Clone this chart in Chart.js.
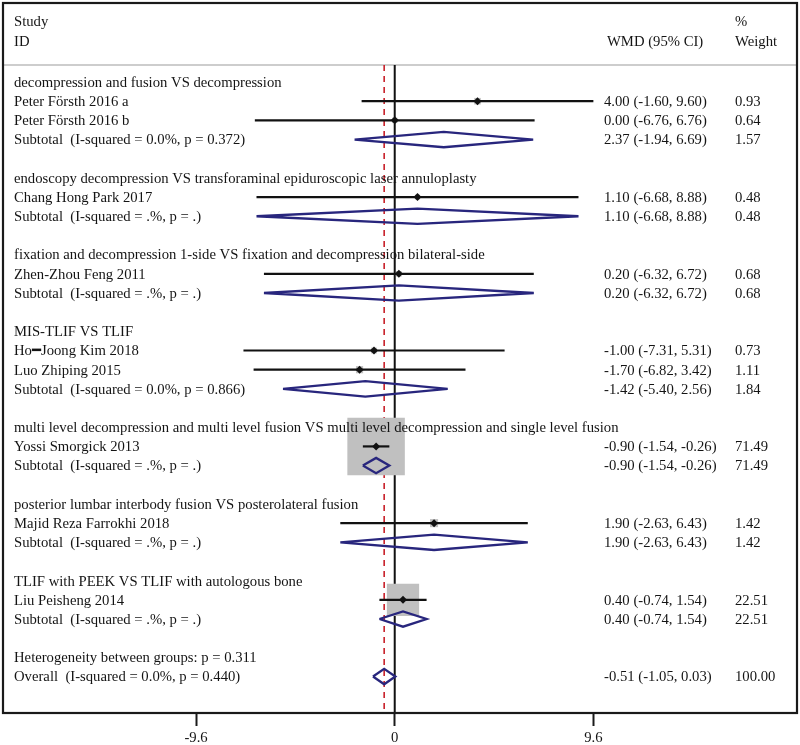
<!DOCTYPE html>
<html>
<head>
<meta charset="utf-8">
<script src="https://cdn.jsdelivr.net/npm/chart.js@4.4.0/dist/chart.umd.min.js"></script>
<style>
  html, body { margin: 0; padding: 0; background: #fff; }
  #wrap { width: 800px; height: 745px; }
</style>
</head>
<body>
<div id="wrap"><canvas id="forest"></canvas></div>
<script>
// Forest plot - WMD by comparison subgroup

// Data
const groupTitles = [
    'decompression and fusion VS decompression',
    'endoscopy decompression VS transforaminal epiduroscopic laser annuloplasty',
    'fixation and decompression 1-side VS fixation and decompression bilateral-side',
    'MIS-TLIF VS TLIF',
    'multi level decompression and multi level fusion VS multi level decompression and single level fusion',
    'posterior lumbar interbody fusion VS posterolateral fusion',
    'TLIF with PEEK VS TLIF with autologous bone'
];
const subtotalLabels = [
    'Subtotal  (I-squared = 0.0%, p = 0.372)',
    'Subtotal  (I-squared = .%, p = .)',
    'Subtotal  (I-squared = .%, p = .)',
    'Subtotal  (I-squared = 0.0%, p = 0.866)',
    'Subtotal  (I-squared = .%, p = .)',
    'Subtotal  (I-squared = .%, p = .)',
    'Subtotal  (I-squared = .%, p = .)'
];
const subtotalEst = [2.37, 1.10, 0.20, -1.42, -0.90, 1.90, 0.40];
const subtotalLo = [-1.94, -6.68, -6.32, -5.40, -1.54, -2.63, -0.74];
const subtotalHi = [6.69, 8.88, 6.72, 2.56, -0.26, 6.43, 1.54];
const subtotalWeight = [1.57, 0.48, 0.68, 1.84, 71.49, 1.42, 22.51];

const studyNames = [
    'Peter Försth 2016 a',
    'Peter Försth 2016 b',
    'Chang Hong Park 2017',
    'Zhen-Zhou Feng 2011',
    'Ho\u2501Joong Kim 2018',
    'Luo Zhiping 2015',
    'Yossi Smorgick 2013',
    'Majid Reza Farrokhi 2018',
    'Liu Peisheng 2014'
];
const studyGroup = [0, 0, 1, 2, 3, 3, 4, 5, 6];
const studyEst = [4.00, 0.00, 1.10, 0.20, -1.00, -1.70, -0.90, 1.90, 0.40];
const studyLo = [-1.60, -6.76, -6.68, -6.32, -7.31, -6.82, -1.54, -2.63, -0.74];
const studyHi = [9.60, 6.76, 8.88, 6.72, 5.31, 3.42, -0.26, 6.43, 1.54];
const studyWeight = [0.93, 0.64, 0.48, 0.68, 0.73, 1.11, 71.49, 1.42, 22.51];

const heterogeneityLabel = 'Heterogeneity between groups: p = 0.311';
const overallLabel = 'Overall  (I-squared = 0.0%, p = 0.440)';
const overallEst = -0.51;
const overallLo = -1.05;
const overallHi = 0.03;
const overallWeight = 100.00;

const xTicks = [-9.6, 0, 9.6];

// Layout / style
const FONT = '14.7px "Liberation Serif", "Times New Roman", serif';
const TEXT_COLOR = '#141414';
const DIAMOND_COLOR = '#28267d';
const BOX_COLOR = '#c0c0c0';
const X_MIN = -18.93, X_MAX = 19.44;
const Y_MIN = -4.12, Y_MAX = 32.9;
const SEP_ROW = -0.89;
const HALF_H = 0.4;          // diamond half height in rows
const BOX_SCALE = 6.8;       // box side px per sqrt(weight)
const COL_ID = 14, COL_CI = 604, COL_W = 735;

// Build rows
const rows = [];
let r = 0;
groupTitles.forEach((title, g) => {
    rows.push({ kind: 'title', row: r++, text: title });
    studyNames.forEach((name, i) => {
        if (studyGroup[i] === g) rows.push({ kind: 'study', row: r++, i });
    });
    rows.push({ kind: 'sub', row: r++, g });
    r++;
});
const heteroRow = r;
const overallRow = r + 1;

const fmt = v => v.toFixed(2);
const ciText = (e, lo, hi) => `${fmt(e)} (${fmt(lo)}, ${fmt(hi)})`;

// Datasets
const datasets = [];

// reference lines (behind everything)
datasets.push({
    type: 'line', data: [{ x: 0, y: SEP_ROW }, { x: 0, y: Y_MAX }],
    borderColor: '#111', borderWidth: 2, pointRadius: 0, order: 6
});
datasets.push({
    type: 'line', data: [{ x: overallEst, y: SEP_ROW }, { x: overallEst, y: Y_MAX }],
    borderColor: '#c8202a', borderWidth: 1.6, borderDash: [6, 5], pointRadius: 0, order: 6
});

// weight boxes
const studyRows = rows.filter(d => d.kind === 'study');
datasets.push({
    type: 'scatter',
    data: studyRows.map(d => ({ x: studyEst[d.i], y: d.row })),
    pointStyle: 'rect',
    pointRadius: studyRows.map(d => BOX_SCALE * Math.sqrt(studyWeight[d.i]) / Math.SQRT2),
    backgroundColor: BOX_COLOR, borderWidth: 0, order: 5
});

// CI lines
studyRows.forEach(d => {
    datasets.push({
        type: 'line',
        data: [{ x: studyLo[d.i], y: d.row }, { x: studyHi[d.i], y: d.row }],
        borderColor: '#111', borderWidth: 2.2, pointRadius: 0, order: 2
    });
});

// diamonds
function diamond(e, lo, hi, row) {
    return [
        { x: lo, y: row }, { x: e, y: row - HALF_H }, { x: hi, y: row },
        { x: e, y: row + HALF_H }, { x: lo, y: row }
    ];
}
rows.filter(d => d.kind === 'sub').forEach(d => {
    datasets.push({
        type: 'line', data: diamond(subtotalEst[d.g], subtotalLo[d.g], subtotalHi[d.g], d.row),
        borderColor: DIAMOND_COLOR, borderWidth: 2.3, pointRadius: 0, tension: 0, order: 2
    });
});
datasets.push({
    type: 'line', data: diamond(overallEst, overallLo, overallHi, overallRow),
    borderColor: DIAMOND_COLOR, borderWidth: 2.3, pointRadius: 0, tension: 0, order: 2
});

// point estimates
datasets.push({
    type: 'scatter',
    data: studyRows.map(d => ({ x: studyEst[d.i], y: d.row })),
    pointStyle: 'rectRot', pointRadius: 4,
    backgroundColor: '#111', borderColor: '#111', borderWidth: 0, order: 1
});

// Text + frame plugin
const forestText = {
    id: 'forestText',
    beforeDatasetsDraw(chart) {
        const { ctx, chartArea: a } = chart;
        const ys = chart.scales.y;
        ctx.save();
        // header separator
        ctx.strokeStyle = '#bdbdbd';
        ctx.lineWidth = 1.5;
        ctx.beginPath();
        ctx.moveTo(a.left, ys.getPixelForValue(SEP_ROW));
        ctx.lineTo(a.right, ys.getPixelForValue(SEP_ROW));
        ctx.stroke();
        ctx.restore();
    },
    afterDatasetsDraw(chart) {
        const { ctx, chartArea: a } = chart;
        const ys = chart.scales.y;
        const y = v => ys.getPixelForValue(v);
        ctx.save();
        ctx.font = FONT;
        ctx.fillStyle = TEXT_COLOR;
        ctx.textBaseline = 'middle';
        ctx.textAlign = 'left';

        // header
        ctx.fillText('Study', COL_ID, y(-3.12));
        ctx.fillText('ID', COL_ID, y(-2.08));
        ctx.fillText('WMD (95% CI)', COL_CI + 3, y(-2.08));
        ctx.fillText('%', COL_W, y(-3.12));
        ctx.fillText('Weight', COL_W, y(-2.08));

        rows.forEach(d => {
            const py = y(d.row) + 1;
            if (d.kind === 'title') {
                ctx.fillText(d.text, COL_ID, py);
            } else if (d.kind === 'study') {
                ctx.fillText(studyNames[d.i], COL_ID, py);
                ctx.fillText(ciText(studyEst[d.i], studyLo[d.i], studyHi[d.i]), COL_CI, py);
                ctx.fillText(fmt(studyWeight[d.i]), COL_W, py);
            } else {
                ctx.fillText(subtotalLabels[d.g], COL_ID, py);
                ctx.fillText(ciText(subtotalEst[d.g], subtotalLo[d.g], subtotalHi[d.g]), COL_CI, py);
                ctx.fillText(fmt(subtotalWeight[d.g]), COL_W, py);
            }
        });
        ctx.fillText(heterogeneityLabel, COL_ID, y(heteroRow) + 1);
        ctx.fillText(overallLabel, COL_ID, y(overallRow) + 1);
        ctx.fillText(ciText(overallEst, overallLo, overallHi), COL_CI, y(overallRow) + 1);
        ctx.fillText(fmt(overallWeight), COL_W, y(overallRow) + 1);

        // frame
        ctx.strokeStyle = '#1a1a1a';
        ctx.lineWidth = 2.2;
        ctx.strokeRect(a.left, a.top, a.right - a.left, a.bottom - a.top);
        ctx.restore();
    }
};

new Chart(document.getElementById('forest'), {
    type: 'scatter',
    data: { datasets },
    options: {
        responsive: true,
        maintainAspectRatio: false,
        animation: false,
        layout: { autoPadding: false, padding: { left: 3, right: 3, top: 3, bottom: 0 } },
        plugins: { legend: { display: false }, tooltip: { enabled: false } },
        scales: {
            x: {
                type: 'linear', min: X_MIN, max: X_MAX,
                afterBuildTicks: s => { s.ticks = xTicks.map(v => ({ value: v })); },
                afterFit: s => { s.height = 32; },
                grid: { drawOnChartArea: false, drawTicks: true, tickLength: 13, tickColor: '#1a1a1a', tickWidth: 2 },
                border: { display: false },
                ticks: {
                    color: TEXT_COLOR, padding: 3, maxRotation: 0, autoSkip: false,
                    font: { family: '"Liberation Serif", serif', size: 14.7 },
                    callback: v => String(v)
                }
            },
            y: { type: 'linear', reverse: true, min: Y_MIN, max: Y_MAX, display: false }
        }
    },
    plugins: [forestText]
});
</script>
</body>
</html>
